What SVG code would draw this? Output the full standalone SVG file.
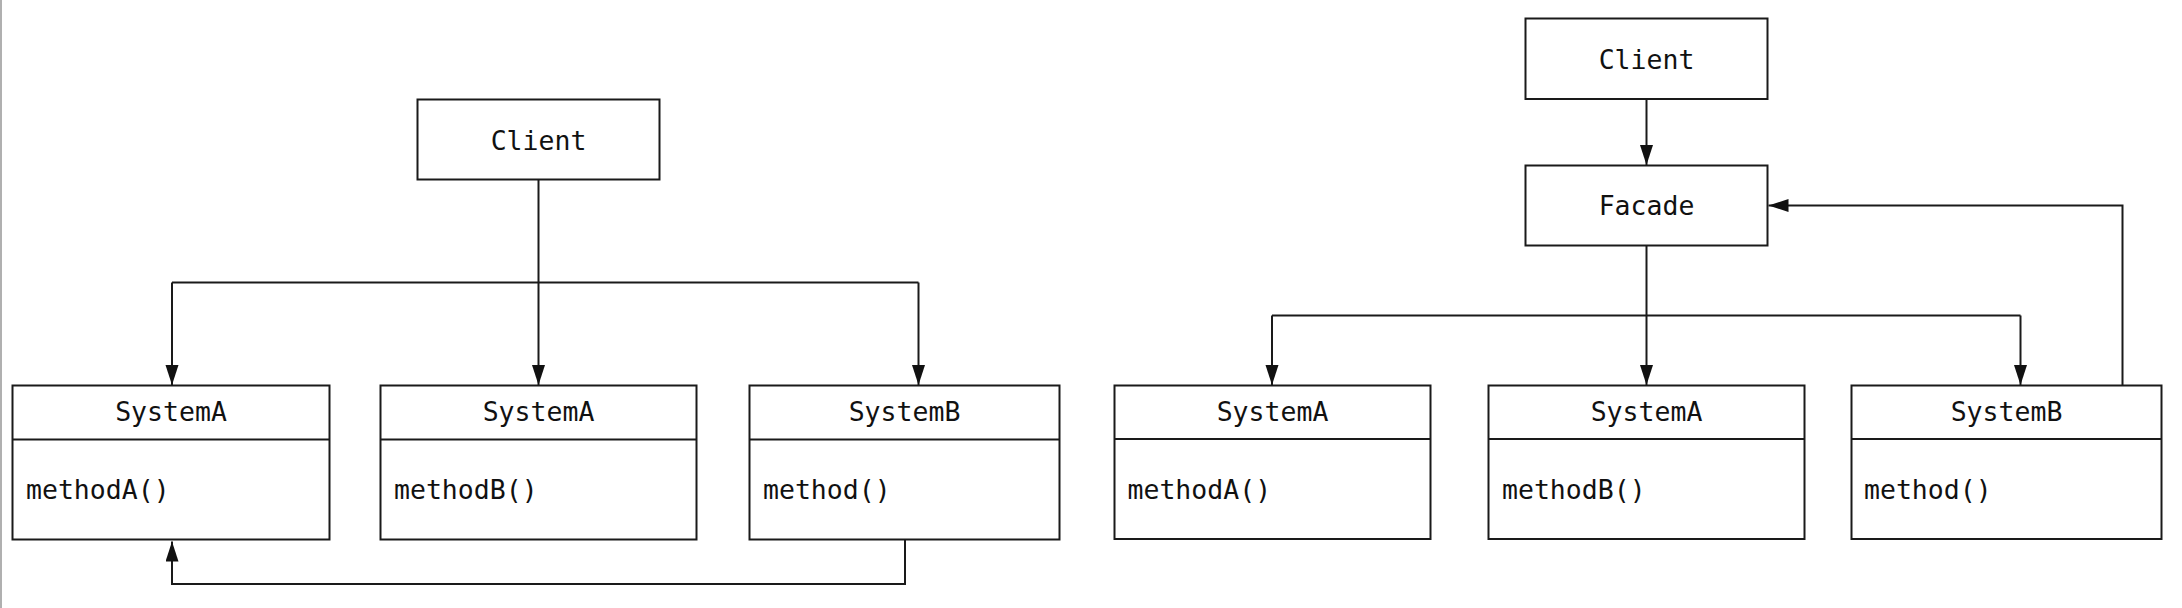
<svg xmlns="http://www.w3.org/2000/svg" width="2182" height="608" viewBox="0 0 2182 608">
<style>
.box{fill:#fff;stroke:#1a1a1a;stroke-width:2}
.div{stroke:#1a1a1a;stroke-width:2}
.t{font-family:"DejaVu Sans Mono","Liberation Mono",monospace;font-size:26.5px;fill:#111}
.c{text-anchor:middle}
.ln{fill:none;stroke:#1a1a1a;stroke-width:2}
</style>
<defs>
<marker id="ah" markerUnits="userSpaceOnUse" markerWidth="21" markerHeight="14" refX="20" refY="6.5" orient="auto">
<path d="M0,0 L20,6.5 L0,13 z" fill="#111"/>
</marker>
</defs>
<rect width="2182" height="608" fill="#fff"/>
<rect x="0" y="0" width="2" height="608" fill="#b0b0b0"/>

<g id="connectors">
<path class="ln" d="M538.5,179.5 V282.5"/>
<path class="ln" d="M172,282.5 H918.5"/>
<path class="ln" marker-end="url(#ah)" d="M172,282.5 V385"/>
<path class="ln" marker-end="url(#ah)" d="M538.5,282.5 V385"/>
<path class="ln" marker-end="url(#ah)" d="M918.5,282.5 V385"/>
<path class="ln" marker-end="url(#ah)" d="M905,539.5 V584 H172 V541.5"/>

<path class="ln" marker-end="url(#ah)" d="M1646.5,99 V165"/>
<path class="ln" d="M1646.5,245.5 V315.5"/>
<path class="ln" d="M1272,315.5 H2020.5"/>
<path class="ln" marker-end="url(#ah)" d="M1272,315.5 V385"/>
<path class="ln" marker-end="url(#ah)" d="M1646.5,315.5 V385"/>
<path class="ln" marker-end="url(#ah)" d="M2020.5,315.5 V385"/>
<path class="ln" marker-end="url(#ah)" d="M2122.5,385 V205.5 H1768.5"/>
</g>

<g id="client-left">
<rect class="box" x="417.5" y="99.5" width="242" height="80"/>
<text class="t c" x="538.5" y="149.5">Client</text>
</g>
<g id="systemA1-left">
<rect class="box" x="12.5" y="385.5" width="317" height="154"/>
<line class="div" x1="12.5" y1="439.5" x2="329.5" y2="439.5"/>
<text class="t c" x="171" y="420.5">SystemA</text>
<text class="t" x="26" y="498.5">methodA()</text>
</g>
<g id="systemA2-left">
<rect class="box" x="380.5" y="385.5" width="316" height="154"/>
<line class="div" x1="380.5" y1="439.5" x2="696.5" y2="439.5"/>
<text class="t c" x="538.5" y="420.5">SystemA</text>
<text class="t" x="394" y="498.5">methodB()</text>
</g>
<g id="systemB-left">
<rect class="box" x="749.5" y="385.5" width="310" height="154"/>
<line class="div" x1="749.5" y1="439.5" x2="1059.5" y2="439.5"/>
<text class="t c" x="904.5" y="420.5">SystemB</text>
<text class="t" x="763" y="498.5">method()</text>
</g>

<g id="client-right">
<rect class="box" x="1525.5" y="18.5" width="242" height="80.5"/>
<text class="t c" x="1646.5" y="69">Client</text>
</g>
<g id="facade-right">
<rect class="box" x="1525.5" y="165.5" width="242" height="80"/>
<text class="t c" x="1646.5" y="214.5">Facade</text>
</g>
<g id="systemA1-right">
<rect class="box" x="1114.5" y="385.5" width="316" height="153.5"/>
<line class="div" x1="1114.5" y1="439" x2="1430.5" y2="439"/>
<text class="t c" x="1272.5" y="420.5">SystemA</text>
<text class="t" x="1127.5" y="498.5">methodA()</text>
</g>
<g id="systemA2-right">
<rect class="box" x="1488.5" y="385.5" width="316" height="153.5"/>
<line class="div" x1="1488.5" y1="439" x2="1804.5" y2="439"/>
<text class="t c" x="1646.5" y="420.5">SystemA</text>
<text class="t" x="1502" y="498.5">methodB()</text>
</g>
<g id="systemB-right">
<rect class="box" x="1851.5" y="385.5" width="310" height="153.5"/>
<line class="div" x1="1851.5" y1="439" x2="2161.5" y2="439"/>
<text class="t c" x="2006.5" y="420.5">SystemB</text>
<text class="t" x="1864" y="498.5">method()</text>
</g>
</svg>
